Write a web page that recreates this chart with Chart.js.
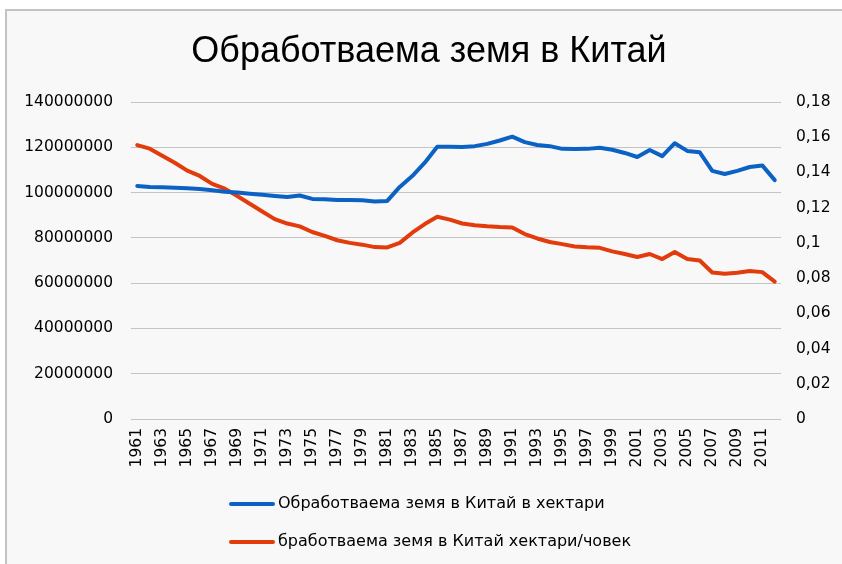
<!DOCTYPE html>
<html>
<head>
<meta charset="utf-8">
<script src="https://cdn.jsdelivr.net/npm/chart.js@4.4.1/dist/chart.umd.min.js"></script>
<style>
  html, body { margin: 0; padding: 0; background: #ffffff; }
  #wrap { width: 842px; height: 564px; }
</style>
</head>
<body>
<div id="wrap"><canvas id="c" width="842" height="564"></canvas></div>
<script>
const chartTitle = "Обработваема земя в Китай";
const seriesNames = [
  "Обработваема земя в Китай в хектари",
  "бработваема земя в Китай хектари/човек"
];
const years = [
  "1961","1962","1963","1964","1965","1966","1967","1968","1969","1970",
  "1971","1972","1973","1974","1975","1976","1977","1978","1979","1980",
  "1981","1982","1983","1984","1985","1986","1987","1988","1989","1990",
  "1991","1992","1993","1994","1995","1996","1997","1998","1999","2000",
  "2001","2002","2003","2004","2005","2006","2007","2008","2009","2010",
  "2011","2012"
];
const landHectares = [
  102900000,102500000,102300000,102100000,101900000,101600000,101000000,100400000,100000000,99500000,
  99000000,98500000,98000000,98700000,97200000,97000000,96700000,96700000,96600000,96100000,
  96300000,102500000,107300000,113200000,120200000,120200000,120100000,120500000,121500000,123000000,
  124700000,122300000,121000000,120500000,119300000,119200000,119300000,119800000,118900000,117500000,
  115700000,118800000,116100000,121800000,118400000,117800000,109600000,108200000,109600000,111300000,
  112000000,105500000
];
const landPerPerson = [
  0.1555,0.1535,0.1495,0.1455,0.1410,0.1380,0.1335,0.1308,0.1266,0.1222,
  0.1178,0.1135,0.1110,0.1094,0.1062,0.1040,0.1015,0.1000,0.0990,0.0976,
  0.0974,0.1000,0.1058,0.1107,0.1148,0.1132,0.1110,0.1100,0.1094,0.1090,
  0.1088,0.1050,0.1025,0.1005,0.0993,0.0980,0.0975,0.0972,0.0952,0.0937,
  0.0920,0.0937,0.0908,0.0948,0.0908,0.0900,0.0832,0.0825,0.0830,0.0840,
  0.0834,0.0780
];
const seriesColors = ["#0b62c4", "#e23c0c"];

const tickFont = { family: "DejaVu Sans", size: 15.5 };

const framePlugin = {
  id: "frame",
  beforeDraw(chart) {
    const ctx = chart.ctx;
    ctx.save();
    ctx.fillStyle = "#ffffff";
    ctx.fillRect(0, 0, chart.width, chart.height);
    ctx.fillStyle = "#c3c3c3";
    ctx.fillRect(5, 9, chart.width - 5, chart.height - 9);
    ctx.fillStyle = "#f8f8f8";
    ctx.fillRect(7, 11, chart.width - 7, chart.height - 11);
    ctx.restore();
  },
  afterDraw(chart) {
    const ctx = chart.ctx;
    ctx.save();
    ctx.fillStyle = "#000000";
    ctx.textAlign = "center";
    ctx.textBaseline = "middle";
    ctx.font = '36px "Liberation Sans"';
    ctx.fillText(chartTitle, 429, 52);
    const rows = [504, 542];
    chart.data.datasets.forEach((ds, i) => {
      const y = rows[i];
      ctx.strokeStyle = ds.borderColor;
      ctx.lineWidth = 4;
      ctx.lineCap = "round";
      ctx.beginPath();
      ctx.moveTo(231, y);
      ctx.lineTo(273, y);
      ctx.stroke();
      ctx.fillStyle = "#000000";
      ctx.textAlign = "left";
      ctx.font = '16px "DejaVu Sans"';
      ctx.fillText(ds.label, 278, y);
    });
    ctx.restore();
  }
};

new Chart(document.getElementById("c"), {
  type: "line",
  data: {
    labels: years,
    datasets: [
      {
        label: seriesNames[0],
        data: landHectares,
        yAxisID: "y",
        borderColor: seriesColors[0],
        backgroundColor: seriesColors[0],
        borderWidth: 4,
        pointRadius: 0,
        tension: 0,
        borderCapStyle: "round",
        borderJoinStyle: "round"
      },
      {
        label: seriesNames[1],
        data: landPerPerson,
        yAxisID: "y1",
        borderColor: seriesColors[1],
        backgroundColor: seriesColors[1],
        borderWidth: 4,
        pointRadius: 0,
        tension: 0,
        borderCapStyle: "round",
        borderJoinStyle: "round"
      }
    ]
  },
  options: {
    responsive: false,
    animation: false,
    devicePixelRatio: 1,
    layout: { padding: { left: 5, right: 0, top: 102, bottom: 0 } },
    plugins: {
      legend: { display: false },
      title: { display: false },
      tooltip: { enabled: false }
    },
    scales: {
      x: {
        offset: true,
        grid: { display: false, drawTicks: false },
        border: { display: false },
        ticks: {
          autoSkip: false,
          minRotation: 90,
          maxRotation: 90,
          padding: 9,
          color: "#000000",
          font: tickFont,
          callback: function (v, i) { return i % 2 === 0 ? years[i] : ""; }
        },
        afterFit(scale) { scale.height = 145; }
      },
      y: {
        position: "left",
        min: 0,
        max: 140000000,
        grid: { color: "#c4c4c4", lineWidth: 1, drawTicks: false },
        border: { display: false },
        ticks: {
          stepSize: 20000000,
          padding: 18,
          color: "#000000",
          font: tickFont,
          callback: function (v) { return String(v); }
        },
        afterFit(scale) { scale.width = 126; }
      },
      y1: {
        position: "right",
        min: 0,
        max: 0.18,
        grid: { display: false, drawTicks: false },
        border: { display: false },
        ticks: {
          stepSize: 0.02,
          padding: 15,
          color: "#000000",
          font: tickFont,
          callback: function (v) { return String(Math.round(v * 100) / 100).replace(".", ","); }
        },
        afterFit(scale) { scale.width = 61; }
      }
    }
  },
  plugins: [framePlugin]
});
</script>
</body>
</html>
